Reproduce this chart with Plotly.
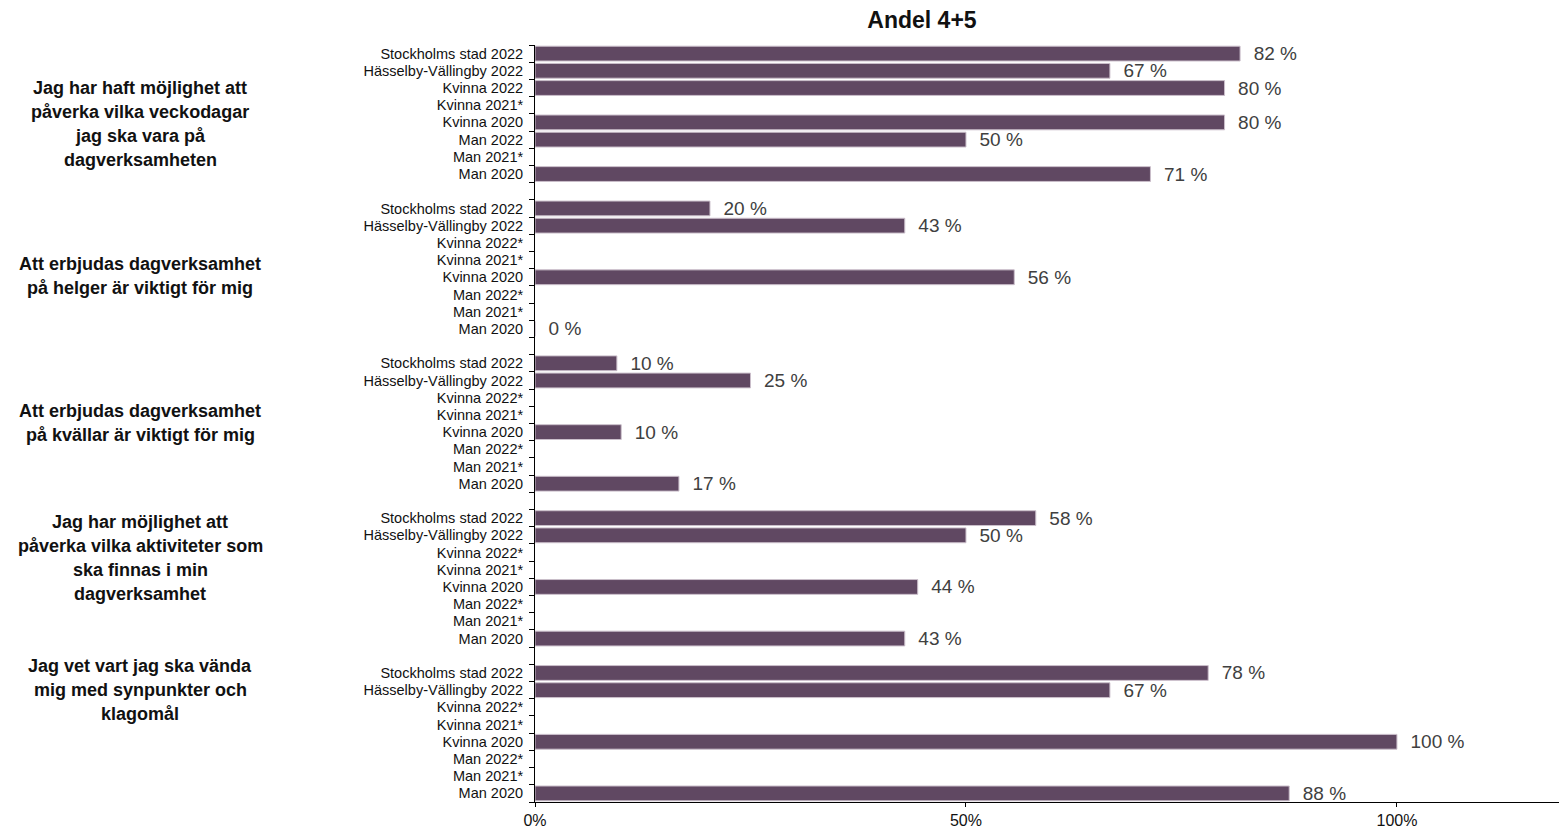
import plotly.graph_objects as go

# survey rows per question (None = no bar shown)
questions = [
    ["Jag har haft möjlighet att", "påverka vilka veckodagar", "jag ska vara på", "dagverksamheten"],
    ["Att erbjudas dagverksamhet", "på helger är viktigt för mig"],
    ["Att erbjudas dagverksamhet", "på kvällar är viktigt för mig"],
    ["Jag har möjlighet att", "påverka vilka aktiviteter som", "ska finnas i min", "dagverksamhet"],
    ["Jag vet vart jag ska vända", "mig med synpunkter och", "klagomål"],
]

labels_q1 = ["Stockholms stad 2022", "Hässelby-Vällingby 2022", "Kvinna 2022", "Kvinna 2021*",
             "Kvinna 2020", "Man 2022", "Man 2021*", "Man 2020"]
labels_rest = ["Stockholms stad 2022", "Hässelby-Vällingby 2022", "Kvinna 2022*", "Kvinna 2021*",
               "Kvinna 2020", "Man 2022*", "Man 2021*", "Man 2020"]

values_q1 = [81.8, 66.7, 80.0, None, 80.0, 50.0, None, 71.4]
values_q2 = [20.3, 42.9, None, None, 55.6, None, None, 0.0]
values_q3 = [9.5, 25.0, None, None, 10.0, None, None, 16.7]
values_q4 = [58.1, 50.0, None, None, 44.4, None, None, 42.9]
values_q5 = [78.1, 66.7, None, None, 100.0, None, None, 87.5]

group_labels = [labels_q1, labels_rest, labels_rest, labels_rest, labels_rest]
group_values = [values_q1, values_q2, values_q3, values_q4, values_q5]

# flatten into rows with an empty row between questions
ys, xs, tickvals, ticktext = [], [], [], []
row = 0
for g, (labs, vals) in enumerate(zip(group_labels, group_values)):
    for lab, v in zip(labs, vals):
        tickvals.append(row)
        ticktext.append(lab)
        if v is not None:
            ys.append(row)
            xs.append(v)
        row += 1
    if g < len(group_labels) - 1:
        row += 1
n_rows = row

FONT = "Liberation Sans, Arial"

fig = go.Figure(go.Bar(
    x=xs, y=ys, orientation="h",
    marker=dict(color="#604862", line=dict(color="#cbbfcb", width=1)),
    width=0.86,
    texttemplate="\u00a0\u00a0%{x:.0f} %",
    textposition="outside",
    constraintext="none",
    textfont=dict(size=19, color="#404040", family=FONT),
    cliponaxis=False,
    hoverinfo="skip",
))

# question labels on the left, one annotation per line
centers = [4.07, 12.9, 21.45, 29.3, 37.0]
line_step = 24 / 17.2
for lines, c in zip(questions, centers):
    n = len(lines)
    for k, ln in enumerate(lines):
        fig.add_annotation(
            x=(140 - 535) / 1024, xref="paper", y=c + (k - (n - 1) / 2) * line_step, yref="y",
            text="<b>%s</b>" % ln, showarrow=False, xanchor="center", yanchor="middle",
            font=dict(size=18, color="#111111", family=FONT),
        )

fig.update_layout(
    width=1559, height=830,
    margin=dict(l=535, r=0, t=45, b=28),
    plot_bgcolor="white", paper_bgcolor="white",
    showlegend=False,
    title=dict(text="<b>Andel 4+5</b>", x=922 / 1559, xanchor="center", y=1 - 20 / 830, yanchor="middle",
               font=dict(size=23, color="#111111", family=FONT)),
    font=dict(family=FONT),
    bargap=0.14,
)
fig.update_xaxes(
    range=[0, 118.8], tickvals=[0, 50, 100], ticktext=["0%", "50%", "100%"],
    showgrid=False, zeroline=False, showline=True, linecolor="#000000", linewidth=1,
    ticks="outside", ticklen=4, tickcolor="#000000",
    tickfont=dict(size=16, color="#111111", family=FONT),
)
fig.update_yaxes(
    range=[n_rows - 0.5, -0.5], tickvals=tickvals, ticktext=ticktext,
    showgrid=False, zeroline=False, showline=True, linecolor="#000000", linewidth=1,
    ticks="", ticklabelstandoff=8,
    tickfont=dict(size=14.5, color="#111111", family=FONT),
    minor=dict(tickvals=[i + 0.5 for i in range(-1, n_rows)], ticks="outside", ticklen=5, tickcolor="#000000"),
)

# drop the default page margin so the figure fills the window exactly
fig.write_html("out.html", config={"displayModeBar": False},
               post_script="document.body.style.margin='0';document.body.style.overflow='hidden';")
